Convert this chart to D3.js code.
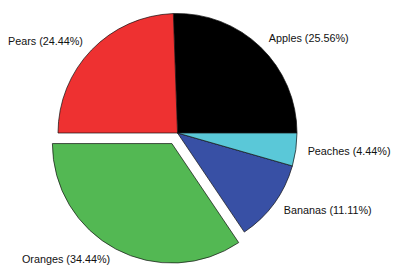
<!DOCTYPE html>
<html>
<head>
<meta charset="utf-8">
<script src="https://cdn.jsdelivr.net/npm/d3@7"></script>
<style>
  body { margin: 0; background: #fff; }
  svg { display: block; }
</style>
</head>
<body>
<div class="chart"></div>
<script>
(function(){

  var fruits = ['Apples', 'Pears', 'Oranges', 'Bananas', 'Peaches'];
  var counts = [23, 22, 31, 10, 4];
  var colors = ['#000000', '#ee3131', '#53b853', '#3850a5', '#5ac8d8'];
  var explode = [0, 0, 0.1, 0, 0];

  var width = 393,
    height = 267,
    cx = 177.5,
    cy = 133,
    r = 119.5;

  var total = d3.sum(counts);

  var svg = d3.select('.chart')
    .append('svg')
    .attr('width', width)
    .attr('height', height);

  // counter-clockwise from 3 o'clock, like matplotlib's default
  var pie = d3.pie()
    .sort(null)
    .startAngle(Math.PI / 2)
    .endAngle(Math.PI / 2 - 2 * Math.PI);

  var arcs = pie(counts);

  var arc = d3.arc().innerRadius(0).outerRadius(r);

  var slices = svg.selectAll('g.slice')
    .data(arcs)
    .enter().append('g')
    .attr('class', 'slice')
    .attr('transform', function(d, i){
      var mid = (d.startAngle + d.endAngle) / 2;
      var off = explode[i] * r;
      return 'translate(' + (cx + off * Math.sin(mid)) + ',' + (cy - off * Math.cos(mid)) + ')';
    });

  slices.append('path')
    .attr('d', arc)
    .attr('fill', function(d, i){ return colors[i]; })
    .attr('stroke', '#111')
    .attr('stroke-width', 0.7)
    .attr('stroke-linejoin', 'round');

  slices.append('text')
    .text(function(d, i){
      return fruits[i] + ' (' + (counts[i] / total * 100).toFixed(2) + '%)';
    })
    .attr('x', function(d){
      var mid = (d.startAngle + d.endAngle) / 2;
      return 1.1 * r * Math.sin(mid);
    })
    .attr('y', function(d){
      var mid = (d.startAngle + d.endAngle) / 2;
      return -1.1 * r * Math.cos(mid);
    })
    .attr('dy', '0.35em')
    .attr('text-anchor', function(d){
      var mid = (d.startAngle + d.endAngle) / 2;
      return Math.sin(mid) > 0 ? 'start' : 'end';
    })
    .attr('font-family', 'Liberation Sans, Arial, sans-serif')
    .attr('font-size', '10.8px')
    .attr('fill', '#111');

}());
</script>
</body>
</html>
